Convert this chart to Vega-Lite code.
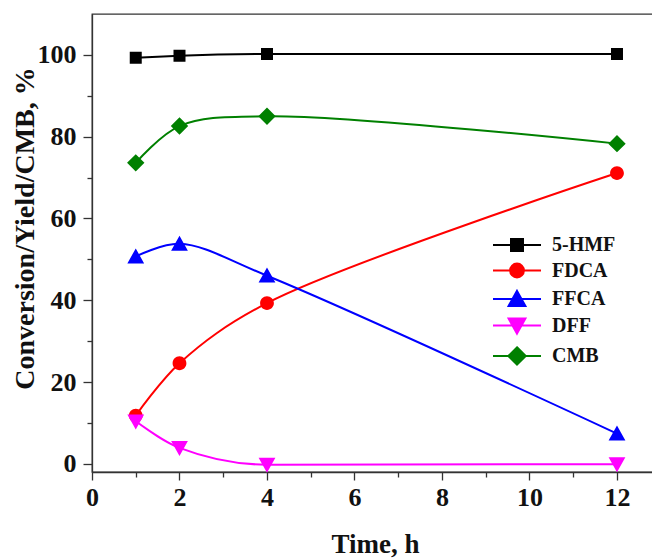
{
  "$schema": "https://vega.github.io/schema/vega-lite/v6.json",
  "autosize": {"type": "none"},
  "padding": {"left": 92, "top": 14, "right": 0, "bottom": 87},
  "width": 562,
  "height": 458,
  "background": "white",
  "config": {
    "view": {"stroke": "#333333", "strokeWidth": 1.3},
    "font": "Liberation Serif"
  },
  "data": {
    "values": [
      {"t": 1, "s": "5-HMF", "v": 99.3},
      {"t": 2, "s": "5-HMF", "v": 99.8},
      {"t": 4, "s": "5-HMF", "v": 100.2},
      {"t": 12, "s": "5-HMF", "v": 100.2},
      {"t": 1, "s": "FDCA", "v": 11.8},
      {"t": 2, "s": "FDCA", "v": 24.6},
      {"t": 4, "s": "FDCA", "v": 39.3},
      {"t": 12, "s": "FDCA", "v": 71.1},
      {"t": 1, "s": "FFCA", "v": 50.7},
      {"t": 2, "s": "FFCA", "v": 53.8},
      {"t": 4, "s": "FFCA", "v": 46.0},
      {"t": 12, "s": "FFCA", "v": 7.4},
      {"t": 1, "s": "DFF", "v": 10.4},
      {"t": 2, "s": "DFF", "v": 3.9},
      {"t": 4, "s": "DFF", "v": -0.2},
      {"t": 12, "s": "DFF", "v": -0.1},
      {"t": 1, "s": "CMB", "v": 73.6},
      {"t": 2, "s": "CMB", "v": 82.6},
      {"t": 4, "s": "CMB", "v": 85.0},
      {"t": 12, "s": "CMB", "v": 78.3}
    ]
  },
  "encoding": {
    "x": {
      "field": "t", "type": "quantitative",
      "scale": {"domain": [0, 12.846], "nice": false, "zero": false},
      "axis": {
        "values": [0,1,2,3,4,5,6,7,8,9,10,11,12],
        "labelExpr": "datum.value % 2 == 0 ? datum.label : ''",
        "grid": false,
        "tickSize": {"condition": {"test": "datum.value % 2 == 0", "value": 8}, "value": 5},
        "tickColor": "#333333", "tickWidth": 1.3, "domainColor": "#333333", "domainWidth": 1.3,
        "labelFont": "Liberation Serif", "labelFontWeight": "bold", "labelFontSize": 26, "labelColor": "#111111",
        "labelPadding": 4, "labelFlush": false,
        "title": "Time, h", "titleFont": "Liberation Serif", "titleFontWeight": "bold", "titleFontSize": 27, "titleColor": "#111111",
        "titleX": 283, "titleY": 80, "titleBaseline": "alphabetic", "titleAlign": "center"
      }
    },
    "y": {
      "field": "v", "type": "quantitative",
      "scale": {"domain": [-2, 110], "nice": false, "zero": false},
      "axis": {
        "values": [0,10,20,30,40,50,60,70,80,90,100],
        "labelExpr": "datum.value % 20 == 0 ? datum.label : ''",
        "grid": false,
        "tickSize": {"condition": {"test": "datum.value % 20 == 0", "value": 9}, "value": 5},
        "tickColor": "#333333", "tickWidth": 1.3, "domainColor": "#333333", "domainWidth": 1.3,
        "labelFont": "Liberation Serif", "labelFontWeight": "bold", "labelFontSize": 26, "labelColor": "#111111",
        "labelPadding": 7, "labelFlush": false,
        "title": "Conversion/Yield/CMB, %", "titleFont": "Liberation Serif", "titleFontWeight": "bold", "titleFontSize": 28, "titleColor": "#111111",
        "titleAngle": -90, "titleX": -59, "titleY": 214, "titleBaseline": "alphabetic", "titleAlign": "center"
      }
    },
    "color": {
      "field": "s", "type": "nominal",
      "scale": {"domain": ["5-HMF", "FDCA", "FFCA", "DFF", "CMB"], "range": ["#000000", "#ff0000", "#0000ff", "#ff00ff", "#008000"]},
      "legend": {
        "orient": "none", "legendX": 415, "legendY": 221,
        "title": null, "symbolSize": 144, "labelOffset": 25,
        "labelFont": "Liberation Serif", "labelFontWeight": "bold", "labelFontSize": 20, "labelColor": "#111111",
        "rowPadding": 4.5,
        "encode": {
          "symbols": {
            "update": {
              "fill": {"scale": "color", "field": "value"},
              "stroke": {"scale": "color", "field": "value"},
              "strokeWidth": {"value": 2},
              "opacity": {"value": 1}
            }
          }
        }
      }
    }
  },
  "layer": [
    {
      "transform": [{"filter": "datum.s == 'FDCA' || datum.s == 'FFCA' || datum.s == 'CMB'"}],
      "mark": {"type": "line", "interpolate": "catmull-rom", "strokeWidth": 2}
    },
    {
      "transform": [{"filter": "datum.s == '5-HMF' || datum.s == 'DFF'"}],
      "mark": {"type": "line", "interpolate": "monotone", "strokeWidth": 2}
    },
    {
      "mark": {"type": "point", "filled": true, "opacity": 1, "size": 144, "strokeWidth": 0},
      "encoding": {
        "shape": {
          "field": "s", "type": "nominal",
          "scale": {
            "domain": ["5-HMF", "FDCA", "FFCA", "DFF", "CMB"],
            "range": [
              "M-1,-1H1V1H-1Z M-4,0H4",
              "M-1.15,0A1.15,1.15,0,1,1,1.15,0A1.15,1.15,0,1,1,-1.15,0Z M-4,0H4",
              "M0,-1.35L1.4,1.15L-1.4,1.15Z M-4,0H4",
              "M0,1.35L1.4,-1.15L-1.4,-1.15Z M-4,0H4",
              "M0,-1.45L1.45,0L0,1.45L-1.45,0Z M-4,0H4"
            ]
          },
          "legend": {
            "orient": "none", "legendX": 415, "legendY": 221,
            "title": null, "symbolSize": 144, "labelOffset": 25,
            "labelFont": "Liberation Serif", "labelFontWeight": "bold", "labelFontSize": 20, "labelColor": "#111111",
            "rowPadding": 4.5,
            "encode": {
              "symbols": {
                "update": {
                  "fill": {"scale": "color", "field": "value"},
                  "stroke": {"scale": "color", "field": "value"},
                  "strokeWidth": {"value": 2},
                  "opacity": {"value": 1}
                }
              }
            }
          }
        }
      }
    }
  ]
}
